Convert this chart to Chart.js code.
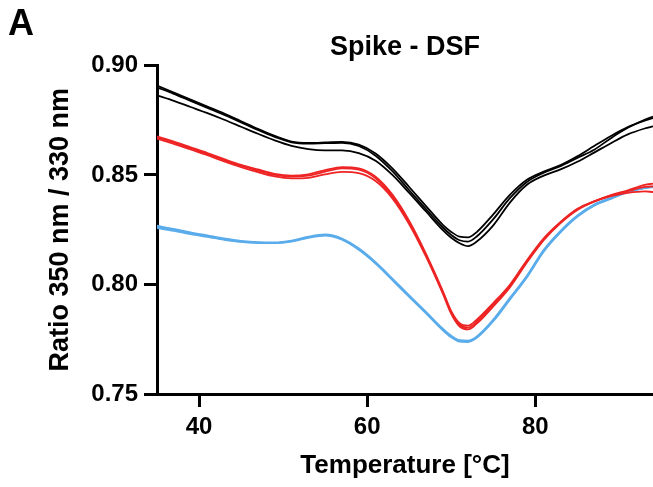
<!DOCTYPE html>
<html>
<head>
<meta charset="utf-8">
<title>Spike - DSF</title>
<script src="https://cdn.jsdelivr.net/npm/chart.js@4.4.1/dist/chart.umd.min.js"></script>
<style>
  html, body { margin: 0; padding: 0; background: #fff; }
  #wrap { position: relative; width: 653px; height: 487px; }
  #panel {
    position: absolute; left: 8px; top: 5px;
    font: bold 36px "Liberation Sans", Arial, Helvetica, sans-serif;
    line-height: 36px; color: #000;
  }
</style>
</head>
<body>
<div id="wrap">
  <canvas id="dsfChart" width="653" height="487"></canvas>
  <div id="panel">A</div>
</div>
<script>
// temperature grid (°C), denser around the melting dip
const temps = [35, 37, 39, 41, 43, 45, 47, 49, 51, 53, 55, 57, 59, 61, 63, 65, 67, 69,
  70, 71, 72, 73, 75, 77, 79, 81, 83, 85, 87, 89, 91, 93, 94];

// black replicates
const black1 = [0.8908, 0.8876, 0.8844, 0.8812, 0.8780, 0.8745, 0.8710, 0.8678, 0.8652, 0.8646, 0.8648, 0.8651, 0.8638, 0.8598, 0.8530, 0.8445, 0.8358, 0.8272,
  0.8240, 0.8218, 0.8215, 0.8238, 0.8320, 0.8410, 0.8478, 0.8515, 0.8545, 0.8585, 0.8632, 0.8678, 0.8718, 0.8748, 0.8760];
const black2 = [0.8863, 0.8838, 0.8810, 0.8782, 0.8752, 0.8720, 0.8688, 0.8658, 0.8633, 0.8618, 0.8612, 0.8612, 0.8600, 0.8565, 0.8500, 0.8418, 0.8333, 0.8248,
  0.8213, 0.8188, 0.8175, 0.8195, 0.8270, 0.8375, 0.8455, 0.8497, 0.8525, 0.8560, 0.8602, 0.8645, 0.8685, 0.8712, 0.8722];
const black3 = [0.8900, 0.8870, 0.8838, 0.8806, 0.8774, 0.8740, 0.8705, 0.8674, 0.8649, 0.8643, 0.8645, 0.8647, 0.8632, 0.8588, 0.8517, 0.8430, 0.8344, 0.8260,
  0.8226, 0.8202, 0.8196, 0.8218, 0.8298, 0.8395, 0.8468, 0.8510, 0.8540, 0.8578, 0.8615, 0.8668, 0.8715, 0.8752, 0.8766];

// red replicates
const red1 = [0.8676, 0.8652, 0.8626, 0.8600, 0.8572, 0.8546, 0.8525, 0.8505, 0.8497, 0.8503, 0.8522, 0.8536, 0.8530, 0.8492, 0.8410, 0.8290, 0.8140, 0.7970,
  0.7878, 0.7823, 0.7812, 0.7838, 0.7915, 0.8000, 0.8110, 0.8210, 0.8285, 0.8345, 0.8380, 0.8408, 0.8430, 0.8455, 0.8460];
const red2 = [0.8666, 0.8642, 0.8616, 0.8590, 0.8562, 0.8536, 0.8513, 0.8493, 0.8484, 0.8487, 0.8503, 0.8514, 0.8508, 0.8472, 0.8393, 0.8275, 0.8127, 0.7958,
  0.7866, 0.7808, 0.7795, 0.7820, 0.7900, 0.7988, 0.8100, 0.8202, 0.8280, 0.8340, 0.8378, 0.8403, 0.8418, 0.8425, 0.8422];
const red3 = [0.8672, 0.8648, 0.8622, 0.8596, 0.8568, 0.8542, 0.8520, 0.8500, 0.8492, 0.8497, 0.8515, 0.8530, 0.8524, 0.8485, 0.8402, 0.8283, 0.8133, 0.7964,
  0.7872, 0.7815, 0.7803, 0.7829, 0.7908, 0.7994, 0.8105, 0.8206, 0.8282, 0.8342, 0.8379, 0.8406, 0.8426, 0.8445, 0.8448];

// blue replicates
const blue1 = [0.8268, 0.8254, 0.8238, 0.8224, 0.8210, 0.8199, 0.8193, 0.8192, 0.8200, 0.8218, 0.8228, 0.8210, 0.8165, 0.8102, 0.8027, 0.7950, 0.7875, 0.7798,
  0.7766, 0.7746, 0.7744, 0.7762, 0.7840, 0.7940, 0.8040, 0.8158, 0.8245, 0.8315, 0.8365, 0.8395, 0.8425, 0.8442, 0.8447];
const blue2 = [0.8257, 0.8245, 0.8230, 0.8217, 0.8204, 0.8194, 0.8189, 0.8189, 0.8196, 0.8213, 0.8223, 0.8204, 0.8158, 0.8095, 0.8020, 0.7943, 0.7868, 0.7791,
  0.7759, 0.7739, 0.7737, 0.7755, 0.7832, 0.7932, 0.8032, 0.8150, 0.8238, 0.8309, 0.8360, 0.8391, 0.8421, 0.8440, 0.8445];
const blue3 = [0.8263, 0.8250, 0.8234, 0.8220, 0.8207, 0.8196, 0.8191, 0.8190, 0.8198, 0.8215, 0.8225, 0.8207, 0.8161, 0.8098, 0.8023, 0.7946, 0.7871, 0.7794,
  0.7762, 0.7742, 0.7740, 0.7758, 0.7836, 0.7936, 0.8036, 0.8154, 0.8241, 0.8312, 0.8362, 0.8393, 0.8423, 0.8441, 0.8446];

const xTicks = [40, 60, 80];
const yTicks = [0.75, 0.80, 0.85, 0.90];

const FONT = "'Liberation Sans', Arial, Helvetica, sans-serif";
const BLACK = "#000000";
const RED = "#ee2424";
const BLUE = "#5aaceb";

function series(values, color) {
  return {
    data: temps.map((t, i) => ({ x: t, y: values[i] })),
    borderColor: color,
    borderWidth: 1.8,
    pointRadius: 0,
    fill: false,
    cubicInterpolationMode: "monotone"
  };
}

// first dataset is drawn last (on top)
const datasets = [
  series(black1, BLACK), series(black2, BLACK), series(black3, BLACK),
  series(red1, RED), series(red2, RED), series(red3, RED),
  series(blue1, BLUE), series(blue2, BLUE), series(blue3, BLUE)
];

const ctx = document.getElementById("dsfChart").getContext("2d");

new Chart(ctx, {
  type: "line",
  data: { datasets },
  options: {
    responsive: false,
    animation: false,
    layout: { padding: 0 },
    plugins: {
      legend: { display: false },
      tooltip: { enabled: false },
      title: {
        display: true,
        text: "Spike - DSF",
        color: BLACK,
        fullSize: false,
        font: { family: FONT, size: 27, weight: "bold" },
        padding: { top: 31, bottom: 2 }
      }
    },
    scales: {
      x: {
        type: "linear",
        min: 35,
        max: 94,
        afterBuildTicks: s => { s.ticks = xTicks.map(v => ({ value: v })); },
        afterFit: s => { s.height = 93; },
        border: { display: true, color: BLACK, width: 3 },
        grid: { drawOnChartArea: false, drawTicks: true, tickLength: 13, tickWidth: 3, tickColor: BLACK },
        ticks: { color: BLACK, padding: 6, font: { family: FONT, size: 24, weight: "bold" } },
        title: {
          display: true,
          text: "Temperature [°C]",
          color: BLACK,
          font: { family: FONT, size: 26, weight: "bold" },
          padding: { top: 0, bottom: 6 }
        }
      },
      y: {
        min: 0.75,
        max: 0.90,
        afterBuildTicks: s => { s.ticks = yTicks.map(v => ({ value: v })); },
        afterFit: s => { s.width = 157; },
        border: { display: true, color: BLACK, width: 3 },
        grid: { drawOnChartArea: false, drawTicks: true, tickLength: 13, tickWidth: 3, tickColor: BLACK },
        ticks: {
          color: BLACK,
          padding: 6,
          font: { family: FONT, size: 24, weight: "bold" },
          callback: v => v.toFixed(2)
        },
        title: {
          display: true,
          text: "Ratio 350 nm / 330 nm",
          color: BLACK,
          font: { family: FONT, size: 27, weight: "bold" },
          padding: { top: 44, bottom: 0 }
        }
      }
    }
  }
});
</script>
</body>
</html>
